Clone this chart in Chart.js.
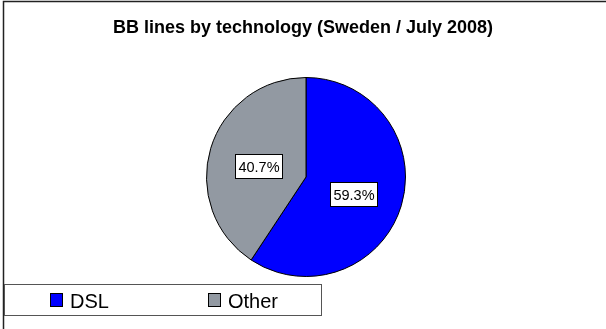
<!DOCTYPE html>
<html>
<head>
<meta charset="utf-8">
<script src="https://cdn.jsdelivr.net/npm/chart.js@4.4.1/dist/chart.umd.min.js"></script>
<style>
  html, body { margin: 0; padding: 0; background: #ffffff; }
  #wrap { width: 606px; height: 329px; position: relative; }
</style>
</head>
<body>
<div id="wrap"><canvas id="c" width="606" height="329"></canvas></div>
<script>
const chartTitle = "BB lines by technology (Sweden / July 2008)";
const categories = ["DSL", "Other"];
const shareValues = [59.3, 40.7];
const sliceColors = ["#0000ff", "#9299a2"];

const FONT = "'Liberation Sans', Arial, sans-serif";

const decorPlugin = {
  id: 'decor',
  beforeDraw(chart) {
    const ctx = chart.ctx;
    ctx.save();
    ctx.fillStyle = '#ffffff';
    ctx.fillRect(0, 0, chart.width, chart.height);
    // frame (top and left edges visible)
    ctx.strokeStyle = '#222222';
    ctx.lineWidth = 1.5;
    ctx.beginPath();
    ctx.moveTo(3.5, chart.height);
    ctx.lineTo(3.5, 1.5);
    ctx.lineTo(chart.width, 1.5);
    ctx.stroke();
    // title
    ctx.fillStyle = '#000000';
    ctx.font = "bold 18px " + FONT;
    ctx.textAlign = 'center';
    ctx.textBaseline = 'alphabetic';
    ctx.fillText(chartTitle, chart.width / 2, 33);
    ctx.restore();
  },
  afterDatasetsDraw(chart) {
    const ctx = chart.ctx;
    const meta = chart.getDatasetMeta(0);
    const ds = chart.data.datasets[0];
    ctx.save();
    // value labels in white boxes
    ctx.font = "14.5px " + FONT;
    ctx.textAlign = 'center';
    ctx.textBaseline = 'middle';
    meta.data.forEach((arc, i) => {
      const p = arc.getProps(['x', 'y', 'startAngle', 'endAngle', 'outerRadius']);
      const mid = (p.startAngle + p.endAngle) / 2;
      const r = p.outerRadius * 0.5;
      const cx = p.x + Math.cos(mid) * r;
      const cy = p.y + Math.sin(mid) * r + 3;
      const txt = ds.data[i].toFixed(1) + '%';
      const w = Math.round(ctx.measureText(txt).width + 6);
      const h = 24;
      const bx = Math.round(cx - w / 2) + 0.5;
      const by = Math.round(cy - h / 2) + 0.5;
      ctx.fillStyle = '#ffffff';
      ctx.fillRect(bx, by, w, h);
      ctx.strokeStyle = '#000000';
      ctx.lineWidth = 1;
      ctx.strokeRect(bx, by, w, h);
      ctx.fillStyle = '#000000';
      ctx.fillText(txt, bx + w / 2, by + h / 2 + 1);
    });
    // legend
    ctx.strokeStyle = '#555555';
    ctx.lineWidth = 1;
    ctx.strokeRect(4.5, 284.5, 317, 31);
    ctx.font = "20px " + FONT;
    ctx.textAlign = 'left';
    ctx.textBaseline = 'alphabetic';
    const itemX = [50, 208];
    chart.data.labels.forEach((lab, i) => {
      const x = itemX[i];
      ctx.fillStyle = ds.backgroundColor[i];
      ctx.fillRect(x + 0.5, 293.5, 12, 13);
      ctx.strokeStyle = '#000000';
      ctx.strokeRect(x + 0.5, 293.5, 12, 13);
      ctx.fillStyle = '#000000';
      ctx.fillText(lab, x + 20, 307.5);
    });
    ctx.restore();
  }
};

new Chart(document.getElementById('c'), {
  type: 'pie',
  data: {
    labels: categories,
    datasets: [{
      data: shareValues,
      backgroundColor: sliceColors,
      borderColor: '#000000',
      borderWidth: 1
    }]
  },
  options: {
    responsive: false,
    animation: false,
    devicePixelRatio: 1,
    layout: { padding: { left: 206, right: 200, top: 77, bottom: 52 } },
    plugins: {
      legend: { display: false },
      title: { display: false },
      tooltip: { enabled: false }
    }
  },
  plugins: [decorPlugin]
});
</script>
</body>
</html>
